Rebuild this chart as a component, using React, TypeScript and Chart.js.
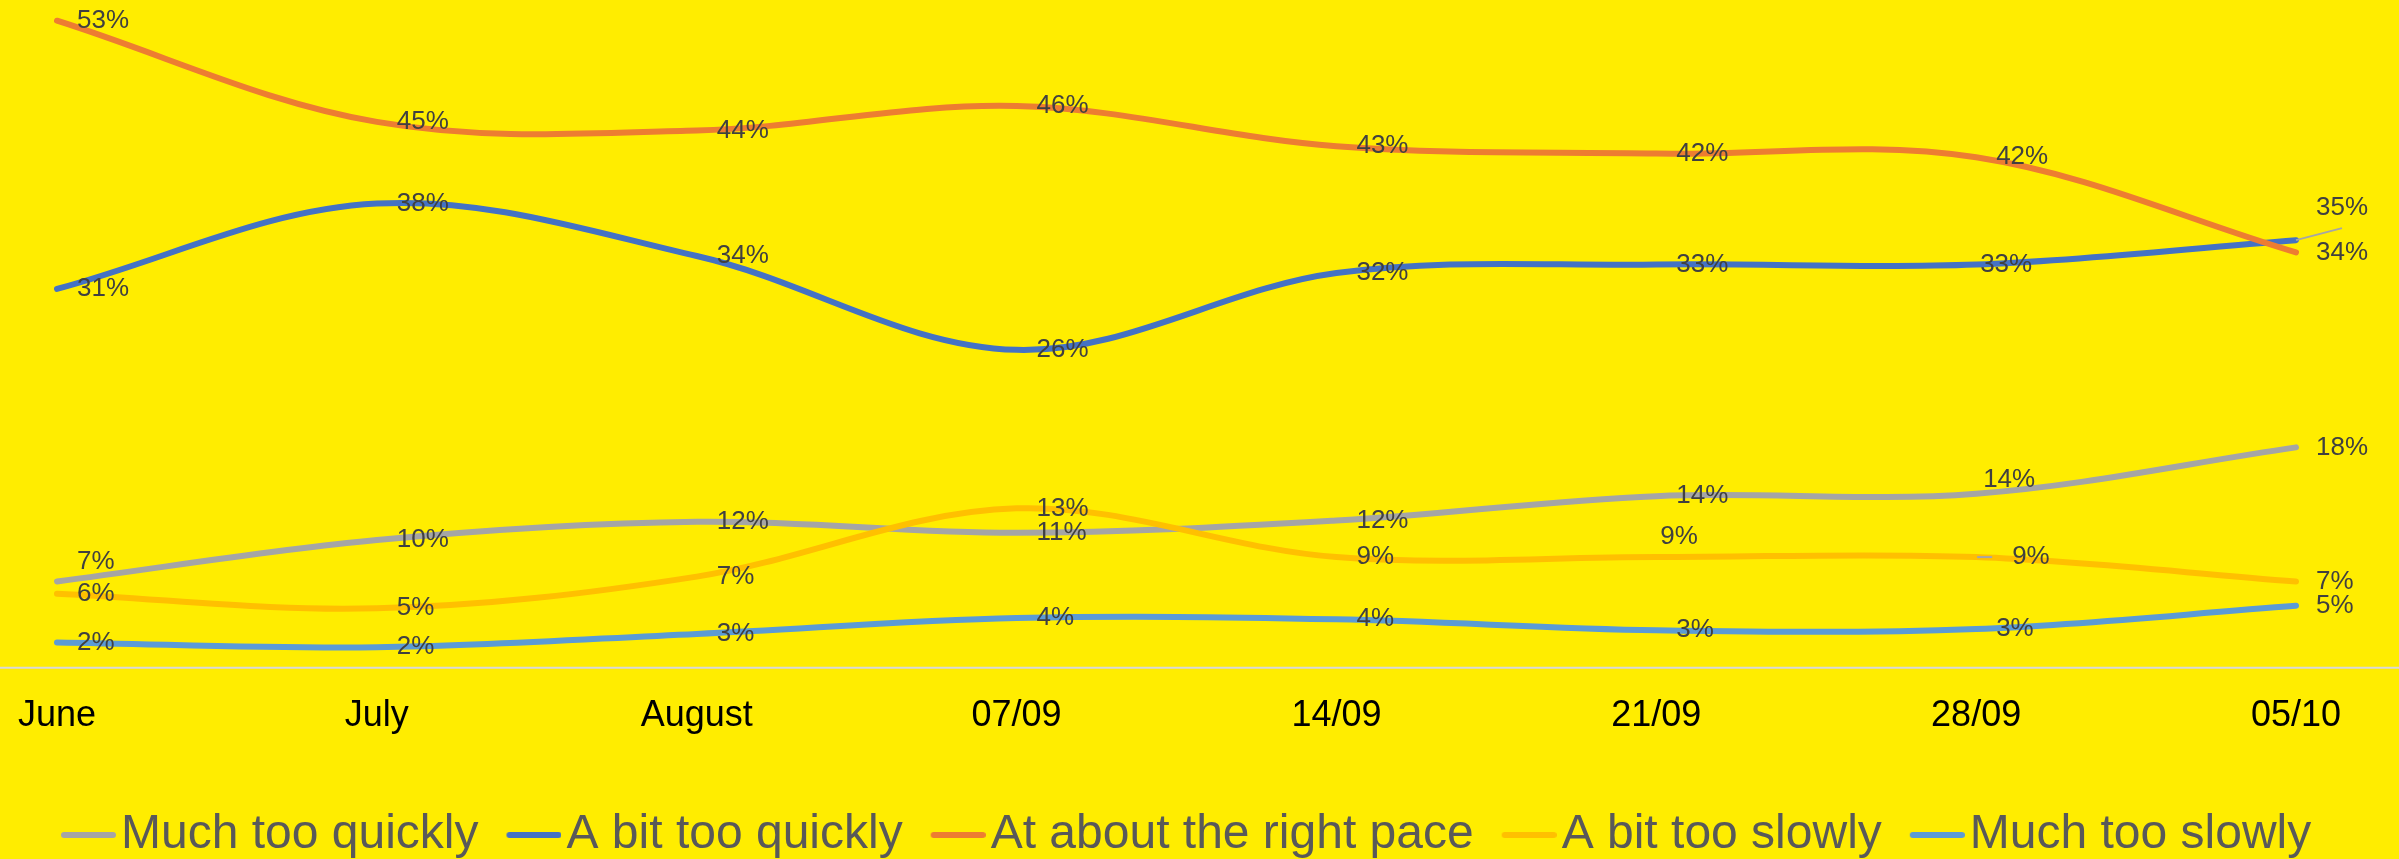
import React, { useEffect, useRef } from "react";
import { Chart, registerables } from "chart.js";

Chart.register(...registerables);

const categories = ["June", "July", "August", "07/09", "14/09", "21/09", "28/09", "05/10"];
const seriesNames = [
  "Much too quickly",
  "A bit too quickly",
  "At about the right pace",
  "A bit too slowly",
  "Much too slowly",
];
const muchTooQuickly = [7, 10.4, 11.9, 11, 12, 14, 14.2, 18];
const aBitTooQuickly = [31, 38, 33.7, 26, 32.3, 33, 33, 35];
const atAboutTheRightPace = [53, 44.7, 44, 46, 42.7, 42.1, 41.8, 34];
const aBitTooSlowly = [6, 4.8, 7.4, 13, 9, 9, 9, 7];
const muchTooSlowly = [2, 1.6, 2.7, 4, 3.9, 3, 3.1, 5];
const seriesColors = ["#A5A5A5", "#4472C4", "#ED7D31", "#FFC000", "#5B9BD5"];
const yMin = 0;
const yMax = 54.7;

// label position tweaks (seriesIndex-pointIndex)
const labelAdjust: Record<string, { dx: number; dy: number; leader?: string }> = {
  "0-0": { dx: 0, dy: -20 },
  "0-6": { dx: -13, dy: -14 },
  "1-6": { dx: -16, dy: 0 },
  "1-7": { dx: 0, dy: -32, leader: "diag" },
  "3-5": { dx: -16, dy: -20 },
  "3-6": { dx: 16, dy: 0, leader: "flat" },
};

const FONT = '"Liberation Sans", Arial, Helvetica, sans-serif';

function makeMarker(color: string): HTMLCanvasElement {
  const c = document.createElement("canvas");
  c.width = 74;
  c.height = 8;
  const g = c.getContext("2d")!;
  g.strokeStyle = color;
  g.lineWidth = 6;
  g.lineCap = "round";
  g.beginPath();
  g.moveTo(22, 4);
  g.lineTo(71, 4);
  g.stroke();
  return c;
}

const axisLinePlugin = {
  id: "axisLine",
  beforeDatasetsDraw(chart: any) {
    const ctx = chart.ctx;
    const y = chart.scales.y.getPixelForValue(0);
    ctx.save();
    ctx.strokeStyle = "#D9D9D9";
    ctx.lineWidth = 2;
    ctx.beginPath();
    ctx.moveTo(0, y + 1);
    ctx.lineTo(chart.width, y + 1);
    ctx.stroke();
    ctx.restore();
  },
};

const pointLabelPlugin = {
  id: "pointLabels",
  afterDatasetsDraw(chart: any) {
    const ctx = chart.ctx;
    ctx.save();
    ctx.font = `26px ${FONT}`;
    ctx.textAlign = "left";
    ctx.textBaseline = "middle";
    chart.data.datasets.forEach((ds: any, i: number) => {
      const meta = chart.getDatasetMeta(i);
      meta.data.forEach((pt: any, j: number) => {
        const v = ds.data[j];
        const adj = labelAdjust[`${i}-${j}`] || { dx: 0, dy: 0 };
        const lx = pt.x + 20 + adj.dx;
        const ly = pt.y + adj.dy;
        if (adj.leader) {
          ctx.strokeStyle = "#A6A6A6";
          ctx.lineWidth = 2;
          ctx.beginPath();
          if (adj.leader === "diag") {
            ctx.moveTo(pt.x, pt.y);
            ctx.lineTo(lx + 26, ly + 20);
          } else {
            ctx.moveTo(pt.x + 1, pt.y);
            ctx.lineTo(pt.x + 16, pt.y);
          }
          ctx.stroke();
        }
        ctx.fillStyle = "#404040";
        ctx.fillText(`${Math.round(v)}%`, lx, ly);
      });
    });
    ctx.restore();
  },
};

export default function App() {
  const ref = useRef<HTMLCanvasElement | null>(null);

  useEffect(() => {
    document.body.style.margin = "0";
    document.documentElement.style.overflow = "hidden";
    const canvas = ref.current!;
    const allData = [muchTooQuickly, aBitTooQuickly, atAboutTheRightPace, aBitTooSlowly, muchTooSlowly];
    const chart = new Chart(canvas, {
      type: "line",
      data: {
        labels: categories,
        datasets: allData.map((d, i) => ({
          label: seriesNames[i],
          data: d,
          borderColor: seriesColors[i],
          backgroundColor: seriesColors[i],
          borderWidth: 6,
          borderCapStyle: "round",
          borderJoinStyle: "round",
          pointRadius: 0,
          pointHoverRadius: 0,
          pointStyle: makeMarker(seriesColors[i]),
          tension: 0.35,
          fill: false,
          order: allData.length - i,
        })),
      },
      options: {
        responsive: false,
        animation: false,
        devicePixelRatio: 1,
        layout: { padding: { left: 33, right: 0, top: 0, bottom: 0 } },
        plugins: {
          tooltip: { enabled: false },
          legend: {
            position: "bottom",
            align: "start",
            labels: {
              usePointStyle: true,
              pointStyleWidth: 36,
              boxHeight: 48,
              padding: 28,
              color: "#595959",
              font: { family: FONT, size: 48 },
              sort: (a: any, b: any) => a.datasetIndex - b.datasetIndex,
            },
          },
        },
        scales: {
          x: {
            grid: { display: false, drawTicks: false },
            border: { display: false },
            ticks: {
              color: "#000000",
              font: { family: FONT, size: 36 },
              padding: 28,
              maxRotation: 0,
              autoSkip: false,
            },
            afterFit: (scale: any) => {
              scale.height += 17;
              scale.paddingLeft = 57;
              scale.paddingRight = 103;
            },
          },
          y: {
            display: false,
            min: yMin,
            max: yMax,
          },
        },
      },
      plugins: [axisLinePlugin, pointLabelPlugin],
    } as any);
    return () => chart.destroy();
  }, []);

  return (
    <div
      style={{
        position: "fixed",
        left: 0,
        top: 0,
        width: 2399,
        height: 859,
        overflow: "hidden",
        background: "#FFED00",
      }}
    >
      <canvas ref={ref} width={2399} height={869} style={{ display: "block" }} />
    </div>
  );
}
